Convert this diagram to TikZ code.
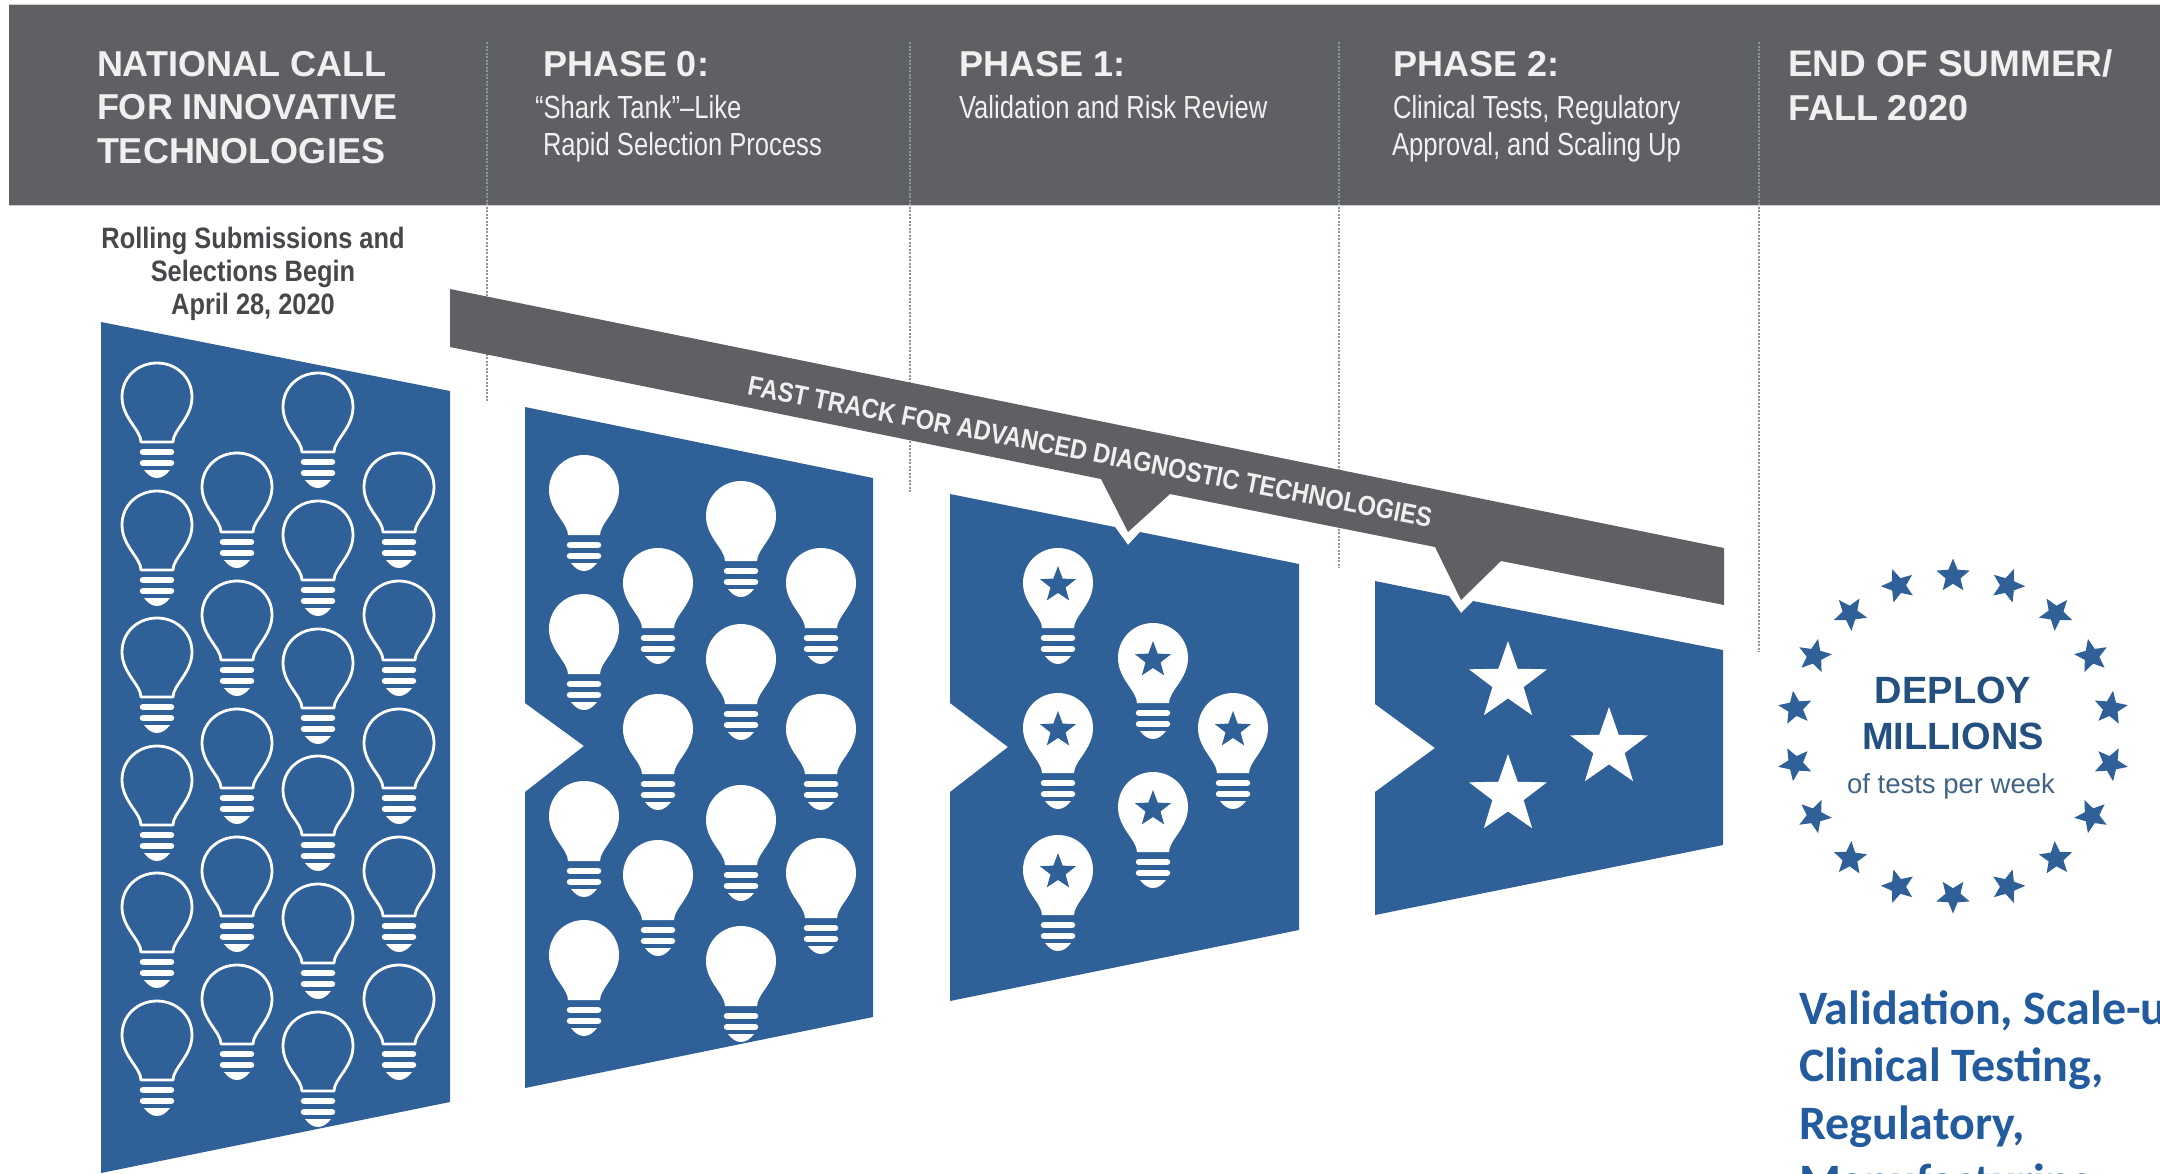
\documentclass[tikz,border=0pt]{standalone}
\usepackage{fontspec}
\usetikzlibrary{shapes.geometric}
\setmainfont{Liberation Sans}
\newfontfamily\narrowf[FakeStretch=0.8]{Liberation Sans}
\newfontfamily\narrowbf[FakeStretch=0.86,BoldFont={Liberation Sans Bold}]{Liberation Sans}
\newfontfamily\calib{Carlito}
\definecolor{hdrgray}{HTML}{5F6064}
\definecolor{panelblue}{HTML}{2F6097}
\definecolor{dotgray}{HTML}{8F959C}
\definecolor{hdrtext}{HTML}{F0F0F0}
\definecolor{subgray}{HTML}{47484B}
\definecolor{deploy}{HTML}{23507F}
\definecolor{perweek}{HTML}{3F6485}
\definecolor{notehue}{HTML}{235B9F}
\tikzset{
  txt/.style={inner sep=0pt,outer sep=0pt,anchor=base west},
  headtxt/.style={txt,text=hdrtext,font=\fontsize{36}{36}\selectfont\bfseries},
  subtxt/.style={txt,text=hdrtext,font=\fontsize{32}{32}\selectfont\narrowf},
  roll/.style={txt,anchor=base,text=subgray,font=\fontsize{29.5}{29.5}\selectfont\narrowbf\bfseries},
  notetxt/.style={txt,text=notehue,font=\fontsize{48}{48}\selectfont\calib\bfseries},
  panel/.style={fill=panelblue,draw=none},
  dotline/.style={draw=dotgray,line width=2.2pt,dash pattern=on 2pt off 1.5pt},
  bigstar/.style={star,star points=5,star point ratio=2.5,fill=white,draw=none,inner sep=0pt,minimum size=82pt},
  ringstar/.style={star,star points=5,star point ratio=2.25,fill=panelblue,draw=none,inner sep=0pt,minimum size=35pt},
  bulbstar/.style={star,star points=5,star point ratio=2.4,fill=panelblue,draw=none,inner sep=0pt,minimum size=38pt},
  bulb base/.pic={
    \draw[white,line width=6.5pt,line cap=round] (-14,90)--(14,90) (-14,101)--(14,101);
    \fill[white] (-13,108) -- (13,108) .. controls (9,113) and (5,116) .. (0,116) .. controls (-5,116) and (-9,113) .. (-13,108) -- cycle;
  },
  bulb line/.pic={
    \draw[white,line width=2.8pt,line join=round]
      (-16,80) .. controls (-16,68) and (-35,56) .. (-35,35) .. controls (-35,15) and (-19,1) .. (0,1)
      .. controls (19,1) and (35,15) .. (35,35) .. controls (35,56) and (16,68) .. (16,80) -- cycle;
    \pic {bulb base};
  },
  bulb solid/.pic={
    \fill[white]
      (-16,80) .. controls (-16,68) and (-35,56) .. (-35,35) .. controls (-35,15) and (-19,0) .. (0,0)
      .. controls (19,0) and (35,15) .. (35,35) .. controls (35,56) and (16,68) .. (16,80) -- cycle;
    \pic {bulb base};
  }
}
\begin{document}
\begin{tikzpicture}[x=1pt,y=-1pt]
\useasboundingbox (0,0) rectangle (2160,1173);
\clip (0,0) rectangle (2160,1173);
\fill[white] (0,0) rectangle (2160,1173);
% header
\fill[hdrgray] (9,5) rectangle (2160,205);
\draw[line width=1.2pt,draw=black!20] (9,4.5) -- (2160,4.5) (9,205.5) -- (2160,205.5);
% dotted dividers
\coordinate (d1t) at (487,42); \coordinate (d1b) at (487,402);
\coordinate (d2t) at (910,42); \coordinate (d2b) at (910,492);
\coordinate (d3t) at (1339,42); \coordinate (d3b) at (1339,568);
\coordinate (d4t) at (1759,42); \coordinate (d4b) at (1759,652);
\draw[dotline] (d1t)--(d1b);
\draw[dotline] (d2t)--(d2b);
\draw[dotline] (d3t)--(d3b);
\draw[dotline] (d4t)--(d4b);
% header text
\node[headtxt] (h1a) at (97,76) {NATIONAL CALL};
\node[headtxt] (h1b) at (97,119) {FOR INNOVATIVE};
\node[headtxt] (h1c) at (97,163) {TECHNOLOGIES};
\node[headtxt] (h2) at (543,76) {PHASE 0:};
\node[subtxt] (h2a) at (535,118) {“Shark Tank”–Like};
\node[subtxt] (h2b) at (543,155) {Rapid Selection Process};
\node[headtxt] (h3) at (959,76) {PHASE 1:};
\node[subtxt] (h3a) at (959,118) {Validation and Risk Review};
\node[headtxt] (h4) at (1393,76) {PHASE 2:};
\node[subtxt] (h4a) at (1393,118) {Clinical Tests, Regulatory};
\node[subtxt] (h4b) at (1392,155) {Approval, and Scaling Up};
\node[headtxt,font=\fontsize{37}{37}\selectfont\bfseries] (h5a) at (1788,76) {END OF SUMMER/};
\node[headtxt] (h5b) at (1788,120) {FALL 2020};
\node[roll] (r1) at (253,248) {Rolling Submissions and};
\node[roll] (r2) at (253,281) {Selections Begin};
\node[roll] (r3) at (253,314) {April 28, 2020};
% panels
\fill[panel] (101,322) -- (450,391) -- (450,1102) -- (101,1173) -- cycle;
\fill[panel] (525,407) -- (873,478) -- (873,1017) -- (525,1088) -- (525,792) -- (584,746) -- (525,703) -- cycle;
\fill[panel] (950,494) -- (1115,527) -- (1128,545) -- (1140,532) -- (1299,564) -- (1299,930) -- (950,1001) -- (950,792) -- (1008,747) -- (950,703) -- cycle;
\fill[panel] (1375,581) -- (1449,596) -- (1461,613) -- (1473,601) -- (1723,650) -- (1723,845) -- (1375,915) -- (1375,792) -- (1435,748) -- (1375,704) -- cycle;
% fast track band
\fill[hdrgray] (450,289) -- (1724,548) -- (1724,605) -- (1501,561) -- (1461,600) -- (1435,547) -- (1170,494) -- (1128,532) -- (1101,479) -- (450,347) -- cycle;
\node[inner sep=0pt,rotate=-11,text=hdrtext,font=\fontsize{27.5}{27.5}\selectfont\narrowbf\bfseries] (ft) at (1090,452) {FAST TRACK FOR ADVANCED DIAGNOSTIC TECHNOLOGIES};
% outline bulbs
\foreach \x/\ys in {157/{362,490,617,745,872,1000},237/{452,580,708,836,964},318/{372,500,628,755,883,1011},399/{452,580,708,836,964}}
  \foreach \y in \ys \pic at (\x,\y) {bulb line};
% solid bulbs
\foreach \x/\ys in {584/{455,594,781,920},658/{548,694,840},741/{481,624,785,926},821/{548,694,838}}
  \foreach \y in \ys \pic at (\x,\y) {bulb solid};
% star bulbs
\foreach \x/\ys in {1058/{548,693,835},1153/{623,772},1233/{693}}
  \foreach \y in \ys {
    \pic at (\x,\y) {bulb solid};
    \node[bulbstar] (bs\x-\y) at (\x,\y+37) {};
  }
% big stars
\node[bigstar] (b1) at (1508,682) {};
\node[bigstar] (b2) at (1609,748) {};
\node[bigstar] (b3) at (1508,795) {};
% ring of stars
\foreach \i in {0,...,17}
  \node[ringstar,rotate=-20*\i] (rs\i) at ({1953+160*cos(90-20*\i)},{736-160*sin(90-20*\i)}) {};
\node[txt,anchor=base,text=deploy,font=\fontsize{38}{38}\selectfont\bfseries] (dep) at (1953,703) {DEPLOY};
\node[txt,anchor=base,text=deploy,font=\fontsize{38}{38}\selectfont\bfseries] (mil) at (1953,749) {MILLIONS};
\node[txt,anchor=base,text=perweek,font=\fontsize{27.5}{27.5}\selectfont] (per) at (1951,793) {of tests per week};
% note
\node[notetxt] (n1) at (1799,1024) {Validation, Scale-up,};
\node[notetxt] (n2) at (1799,1081) {Clinical Testing,};
\node[notetxt] (n3) at (1799,1139) {Regulatory,};
\node[notetxt] (n4) at (1799,1197) {Manufacturing};
\end{tikzpicture}
\end{document}
